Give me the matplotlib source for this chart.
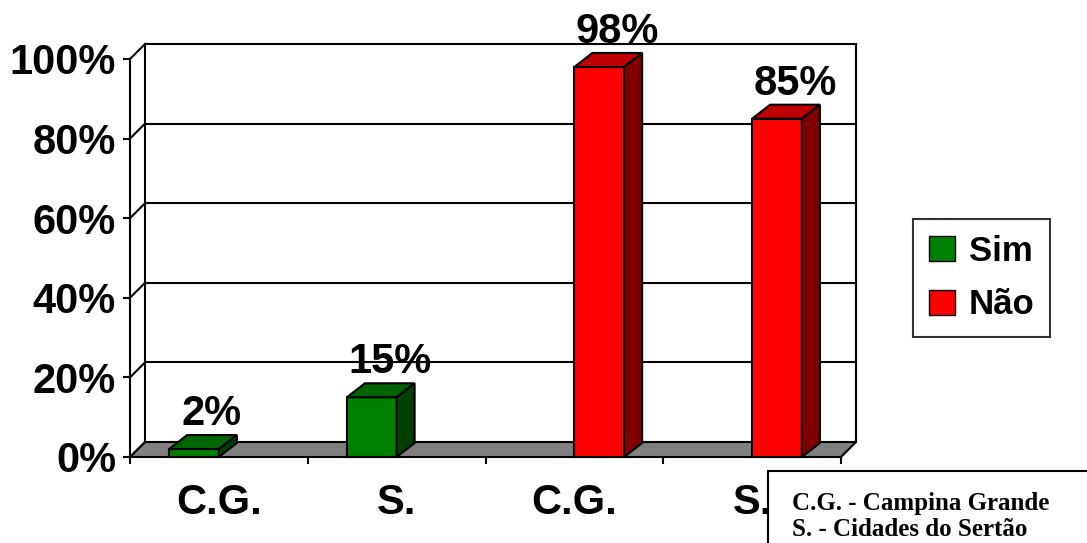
import matplotlib
matplotlib.use("Agg")
import matplotlib.pyplot as plt
from matplotlib.patches import Polygon, Rectangle, Patch
from matplotlib.transforms import IdentityTransform

# data
categories = ["C.G.", "S.", "C.G.", "S."]
sim = [2, 15, 0, 0]
nao = [0, 0, 98, 85]
yticks = [0, 20, 40, 60, 80, 100]
series_names = ["Sim", "Não"]

plt.rcParams["font.family"] = ["Liberation Sans", "DejaVu Sans"]
plt.rcParams["font.weight"] = "bold"

W_PX, H_PX = 1087, 543
fig = plt.figure(figsize=(W_PX / 100, H_PX / 100), dpi=100)
ax = fig.add_axes([130 / W_PX, 86 / H_PX, 711 / W_PX, 398 / H_PX])
ax.set_xlim(0, 4)
ax.set_ylim(0, 100)
ax.patch.set_visible(False)
for s in ["top", "right", "bottom"]:
    ax.spines[s].set_visible(False)
ax.spines["left"].set_linewidth(1.5)

ax.set_yticks(yticks, [f"{t}%" for t in yticks])
ax.tick_params(axis="y", length=5, width=1.5, pad=5, labelsize=30)
ax.set_xticks([i + 0.5 for i in range(len(categories))], categories)
ax.set_xticks(range(len(categories) + 1), minor=True)
ax.tick_params(axis="x", which="major", length=0, pad=19, labelsize=30)
ax.tick_params(axis="x", which="minor", length=5, width=1.5)

ident = IdentityTransform()
WALL = (15, 15)   # depth of floor / back wall in pixels
BAR = (18, 14)    # depth of the bars


def px(x, y):
    return ax.transData.transform((x, y))


def shift(p, d):
    return (p[0] + d[0], p[1] + d[1])


def poly(pts, fc, z):
    ax.add_patch(Polygon(pts, closed=True, facecolor=fc, edgecolor="black",
                         linewidth=1.5, transform=ident, clip_on=False,
                         zorder=z))


def seg(p0, p1, z=1):
    ax.plot([p0[0], p1[0]], [p0[1], p1[1]], color="black", linewidth=1.5,
            transform=ident, clip_on=False, zorder=z)


# floor
poly([px(0, 0), px(4, 0), shift(px(4, 0), WALL), shift(px(0, 0), WALL)],
     "#808080", 1)

# back wall grid and left wall diagonals
for t in yticks:
    if t > 0:
        seg(shift(px(0, t), WALL), shift(px(4, t), WALL))
    seg(px(0, t), shift(px(0, t), WALL))
seg(shift(px(0, 0), WALL), shift(px(0, 100), WALL))
seg(shift(px(4, 0), WALL), shift(px(4, 100), WALL))

# bars
bw = 0.28
colors = {
    "Sim": ("#008000", "#006400", "#004000"),
    "Não": ("#ff0000", "#c00000", "#800000"),
}
for name, vals, side in [("Sim", sim, -1), ("Não", nao, 0)]:
    front, top, right = colors[name]
    for i, v in enumerate(vals):
        if v == 0:
            continue
        x0 = i + 0.5 + side * bw
        x1 = x0 + bw
        z = 3 + i
        poly([px(x0, 0), px(x1, 0), px(x1, v), px(x0, v)], front, z)
        poly([px(x0, v), px(x1, v), shift(px(x1, v), BAR),
              shift(px(x0, v), BAR)], top, z)
        poly([px(x1, 0), px(x1, v), shift(px(x1, v), BAR),
              shift(px(x1, 0), BAR)], right, z)
        ax.annotate(f"{v}%", xy=((x0 + x1) / 2, v),
                    xytext=(18 * 0.72, 24 * 0.72), textcoords="offset points",
                    ha="center", va="baseline", fontsize=30,
                    fontweight="bold", annotation_clip=False, zorder=20)

# legend
handles = [Patch(facecolor=colors[n][0], edgecolor="black") for n in series_names]
leg = fig.legend(handles, series_names, loc="upper left",
                 bbox_to_anchor=(913 / W_PX, 1 - 219 / H_PX),
                 fontsize=25, frameon=True, fancybox=False, edgecolor="black",
                 handlelength=0.75, handleheight=0.75, handletextpad=0.4,
                 labelspacing=0.6, borderpad=0.45, borderaxespad=0)
leg.get_frame().set_linewidth(1.5)

# abbreviation note box
fig.add_artist(Rectangle((768 / W_PX, -0.05), 0.5, (543 - 471) / H_PX + 0.05,
                         transform=fig.transFigure, facecolor="white",
                         edgecolor="black", linewidth=1.5, zorder=30))
for txt, yb in [("C.G. - Campina Grande", 510), ("S. - Cidades do Sertão", 536)]:
    fig.text(792 / W_PX, 1 - yb / H_PX, txt, family="Liberation Serif",
             fontweight="bold", fontsize=18, va="baseline", zorder=31)

fig.savefig("out.png", dpi=100)
